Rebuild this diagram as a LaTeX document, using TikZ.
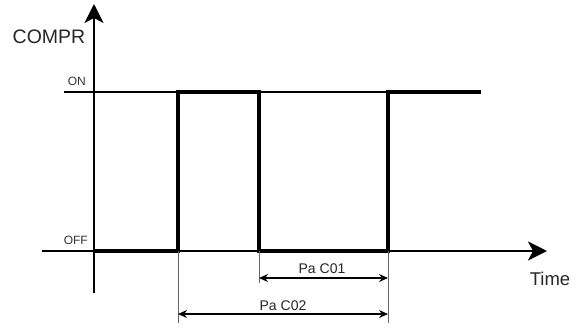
\documentclass[tikz,border=0pt]{standalone}
\usepackage{fontspec}
\setmainfont{Liberation Sans}
\usetikzlibrary{arrows.meta}

\tikzset{
  axisline/.style={line width=2pt, -{Stealth[length=19pt, width=19pt, inset=5pt]}},
  levelline/.style={line width=1.6pt},
  signal/.style={line width=4pt, line join=miter},
  guide/.style={line width=1pt, black!60},
  span/.style={line width=1.3pt, {Stealth[length=9pt, width=8pt]}-{Stealth[length=9pt, width=8pt]}},
  biglabel/.style={font=\fontsize{19.5}{19.5}\selectfont, text=black!85, inner sep=0pt},
  lvllabel/.style={font=\fontsize{12}{12}\selectfont, text=black!80, inner sep=0pt},
  spanlabel/.style={font=\fontsize{14}{14}\selectfont, text=black!85, inner sep=0pt}
}

\begin{document}
\begin{tikzpicture}[x=1pt, y=-1pt]
\useasboundingbox (0,0) rectangle (577,327);

% axes and levels
\coordinate (ybot) at (94,293);
\coordinate (ytop) at (94,4);
\coordinate (xleft) at (42,251);
\coordinate (xright) at (547,251);
\coordinate (onleft) at (64,92);
\coordinate (onright) at (388,92);
\draw[levelline] (onleft) -- (onright);
\draw[axisline] (xleft) -- (xright);
\draw[axisline] (ybot) -- (ytop);

% compressor state
\coordinate (s0) at (94,251);
\coordinate (s1) at (178,251);
\coordinate (s2) at (178,92);
\coordinate (s3) at (259,92);
\coordinate (s4) at (259,251);
\coordinate (s5) at (388,251);
\coordinate (s6) at (388,92);
\coordinate (s7) at (481,92);
\draw[signal] (s0) -- (s1) -- (s2) -- (s3) -- (s4) -- (s5) -- (s6) -- (s7);

% timing marks
\coordinate (g1) at (178,323);
\coordinate (g2) at (259,283);
\coordinate (g3) at (388,323);
\draw[guide] (s1) -- (g1);
\draw[guide] (s4) -- (g2);
\draw[guide] (s5) -- (g3);

\coordinate (c01l) at (259,278);
\coordinate (c01r) at (388,278);
\coordinate (c02l) at (178,314);
\coordinate (c02r) at (388,314);
\draw[span] (c01l) -- (c01r);
\draw[span] (c02l) -- (c02r);

% labels
\node[biglabel] (compr) at (49,37) {COMPR};
\node[biglabel, font=\fontsize{18.5}{18.5}\selectfont] (time) at (550,279) {Time};
\node[lvllabel, anchor=east] (on) at (86,81) {ON};
\node[lvllabel, anchor=east] (off) at (88,240) {OFF};
\node[spanlabel] (pac01) at (322,269) {Pa C01};
\node[spanlabel] (pac02) at (283,306) {Pa C02};
\end{tikzpicture}
\end{document}
